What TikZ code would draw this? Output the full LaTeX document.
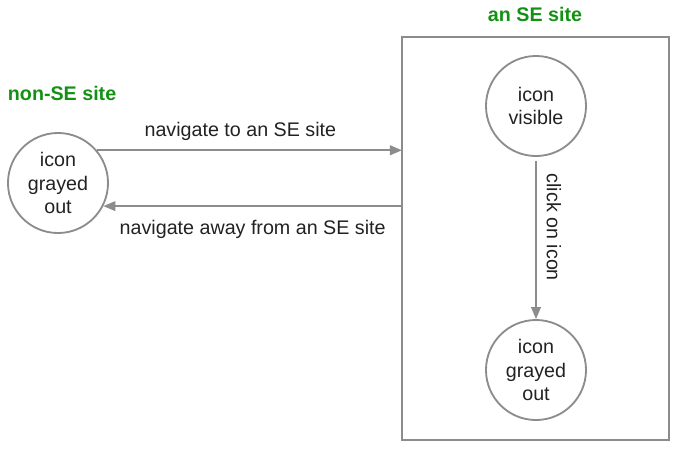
\documentclass[tikz,border=0pt]{standalone}
\usepackage{fontspec}
\setmainfont{Liberation Sans}
\usetikzlibrary{arrows.meta}
\definecolor{linegray}{HTML}{8C8C8E}
\definecolor{sitegreen}{HTML}{139113}
\definecolor{textgray}{HTML}{222222}
\tikzset{
  state/.style={circle, draw=linegray, line width=1.3pt, minimum size=2.5cm, inner sep=0pt,
    align=center, text=textgray, font=\fontsize{14}{17}\selectfont},
  link/.style={draw=linegray, line width=1.3pt, -{Triangle[length=0.3cm,width=0.24cm]}},
  sitelabel/.style={text=sitegreen, font=\fontsize{14}{16}\selectfont\bfseries},
  linklabel/.style={text=textgray, font=\fontsize{14}{16}\selectfont}
}
\begin{document}
\begin{tikzpicture}[x=0.025cm,y=-0.025cm]
	% 画布大小
	\useasboundingbox (0,0) rectangle (679,455);
	
	% 右边的方框,表示 SE 站点
	\draw[linegray, line width=1.3pt] (402,37) coordinate (boxnw) rectangle (669,440) coordinate (boxse);
	\node[sitelabel] (selabel) at (535,14) {an SE site};
	\node[sitelabel, anchor=west] (nonselabel) at (3,93) {non-SE site};
	
	% 三个状态
	\node[state] (grayleft) at (58,183) {icon\\grayed\\out};
	\node[state] (visible) at (536,106) {icon\\visible};
	\node[state] (grayright) at (536,370) {icon\\grayed\\out};
	
	% 左右之间的箭头
	\draw[link] (grayleft.40) -- (grayleft.40 -| boxnw) node[linklabel, pos=0.47, above=3pt] {navigate to an SE site};
	\draw[link] (grayleft.-27 -| boxnw) -- (grayleft.-27) node[linklabel, midway, below=6pt] {navigate away from an SE site};
	
	% 点击图标
	\draw[link] (visible.south) ++(0,4) coordinate (clickstart) -- (grayright.north) node[linklabel, pos=0.42, rotate=-90, anchor=south, inner sep=7pt] {click on icon};
\end{tikzpicture}
\end{document}
